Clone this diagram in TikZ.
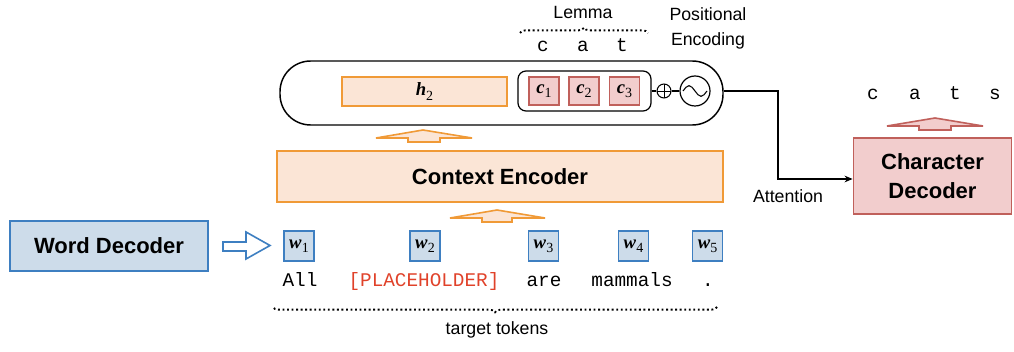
\documentclass[tikz,border=0pt]{standalone}
\usepackage{fontspec}
\setmainfont{Liberation Sans}
\setmonofont{Liberation Mono}
\newfontfamily\tms{Liberation Serif}
\usetikzlibrary{arrows.meta,decorations.pathreplacing,calc}
\definecolor{bluebd}{HTML}{3E7FC1}
\definecolor{bluefl}{HTML}{CDDCEA}
\definecolor{orabd}{HTML}{F09A37}
\definecolor{orafl}{HTML}{FBE5D6}
\definecolor{redbd}{HTML}{C0605B}
\definecolor{redfl}{HTML}{F2CDCD}
\definecolor{phred}{HTML}{E0422A}
\newcommand{\vb}[2]{{\tms\textbf{\textit{#1}}\raisebox{-0.22em}{\fontsize{10.5}{10.5}\selectfont#2}}}
\tikzset{
  bigbox/.style={draw, line width=1.4pt, font=\fontsize{16.5}{21.75}\selectfont\bfseries, align=center, inner sep=0pt},
  wbox/.style={draw=bluebd, fill=bluefl, line width=0.9pt, minimum width=22.5pt, minimum height=22.5pt, inner sep=0pt, font=\fontsize{14}{14}\selectfont},
  cbox/.style={draw=redbd, fill=redfl, line width=0.9pt, minimum width=22.5pt, minimum height=21pt, inner sep=0pt, font=\fontsize{14}{14}\selectfont},
  tok/.style={font=\fontsize{14.5}{14}\selectfont\ttfamily, inner sep=0pt, anchor=base},
  lbl/.style={font=\fontsize{13.3}{18.75}\selectfont, inner sep=0pt, align=center},
  hollow/.style={line width=1.2pt, line join=miter},
  dotbrace/.style={dotted, line width=1.4pt, decorate, decoration={brace, amplitude=4pt}},
}
\begin{document}
\begin{tikzpicture}[x=0.75pt, y=-0.75pt]
\useasboundingbox (0,0) rectangle (1014,352);

% Word decoder
\node[bigbox, draw=bluebd, fill=bluefl, minimum width=148.5pt, minimum height=37.5pt] (wd) at (109,246) {Word Decoder};
\draw[hollow, draw=bluebd, fill=white] (223,242) -- (246,242) -- (246,232) -- (270,245.5) -- (246,259) -- (246,251) -- (223,251) -- cycle;

% word boxes
\node[wbox] (w1) at (299,246) {\vb{w}{1}};
\node[wbox] (w2) at (425,246) {\vb{w}{2}};
\node[wbox] (w3) at (543.5,246) {\vb{w}{3}};
\node[wbox] (w4) at (633.5,246) {\vb{w}{4}};
\node[wbox] (w5) at (707.5,246) {\vb{w}{5}};

% tokens
\node[tok] (t1) at (300,287) {All};
\node[tok, text=phred] (t2) at (424,287) {[PLACEHOLDER]};
\node[tok] (t3) at (544,287) {are};
\node[tok] (t4) at (632,287) {mammals};
\node[tok] (t5) at (708,287) {.};

% bottom brace
\coordinate (bbl) at (273,307);
\coordinate (bbr) at (717,307);
\draw[dotbrace] (bbr) -- (bbl);
\node[lbl] (tt) at (497,330) {target tokens};

% context encoder
\node[bigbox, draw=orabd, fill=orafl, minimum width=334.5pt, minimum height=38.25pt] (ce) at (500,176.5) {Context Encoder};
\draw[hollow, draw=orabd, fill=orafl] (497,210) -- (545,218) -- (512,218) -- (512,222) -- (482,222) -- (482,218) -- (450,218) -- cycle;
\draw[hollow, draw=orabd, fill=orafl] (423,130) -- (472,138) -- (440,138) -- (440,142) -- (408,142) -- (408,138) -- (376,138) -- cycle;

% capsule
\node[draw, line width=1.1pt, minimum width=332.25pt, minimum height=48pt, rounded corners=23pt, inner sep=0pt] (cap) at (501.5,93) {};
\node[draw=orabd, fill=orafl, line width=0.9pt, minimum width=123.75pt, minimum height=21.75pt, inner sep=0pt, font=\fontsize{14}{14}\selectfont] (h2) at (424.5,91.5) {\vb{h}{2}};
\node[draw, line width=0.9pt, minimum width=99.75pt, minimum height=30pt, rounded corners=6pt, inner sep=0pt] (inner) at (584.5,91) {};
\node[cbox] (c1) at (544,91) {\vb{c}{1}};
\node[cbox] (c2) at (584,91) {\vb{c}{2}};
\node[cbox] (c3) at (624.5,91) {\vb{c}{3}};
\node[draw, circle, line width=0.8pt, minimum size=10.5pt, inner sep=0pt,
  path picture={\draw[line width=0.7pt] (path picture bounding box.north) -- (path picture bounding box.south) (path picture bounding box.west) -- (path picture bounding box.east);}] (plus) at (664,91) {};
\node[draw, circle, line width=0.9pt, minimum size=22.5pt, inner sep=0pt,
  path picture={\draw[line width=0.8pt] ([xshift=-9pt]path picture bounding box.center) sin ++(4.5pt,4pt) cos ++(4.5pt,-4pt) sin ++(4.5pt,-4pt) cos ++(4.5pt,4pt);}] (sine) at (695,91) {};
\draw[line width=0.9pt] (inner.east) -- (plus.west);
\draw[line width=0.9pt] (plus.east) -- (sine.west);

% lemma
\node[lbl] (lemma) at (583,12) {Lemma};
\draw[dotbrace] (520,33) -- (648,33);
\node[tok] (lc) at (543,52) {c};
\node[tok] (la) at (583,52) {a};
\node[tok] (lt) at (622,52) {t};
\node[lbl] (pe) at (708,28) {Positional\\Encoding};

% character decoder
\node[bigbox, draw=redbd, fill=redfl, minimum width=118.5pt, minimum height=57pt] (cd) at (932.5,176) {Character\\Decoder};
\draw[hollow, draw=redbd, fill=redfl] (935,118) -- (983,126) -- (951,126) -- (951,130) -- (919,130) -- (919,126) -- (887,126) -- cycle;
\node[tok] (oc) at (873,100) {c};
\node[tok] (oa) at (915,100) {a};
\node[tok] (ot) at (955,100) {t};
\node[tok] (os) at (995,100) {s};

% attention
\coordinate (att) at (778,179);
\draw[line width=0.9pt, -{Stealth[length=6pt, width=5pt]}] (cap.east |- sine.center) -| (att) -- (cd.west |- att);
\node[lbl] (attl) at (788,196) {Attention};
\end{tikzpicture}
\end{document}
